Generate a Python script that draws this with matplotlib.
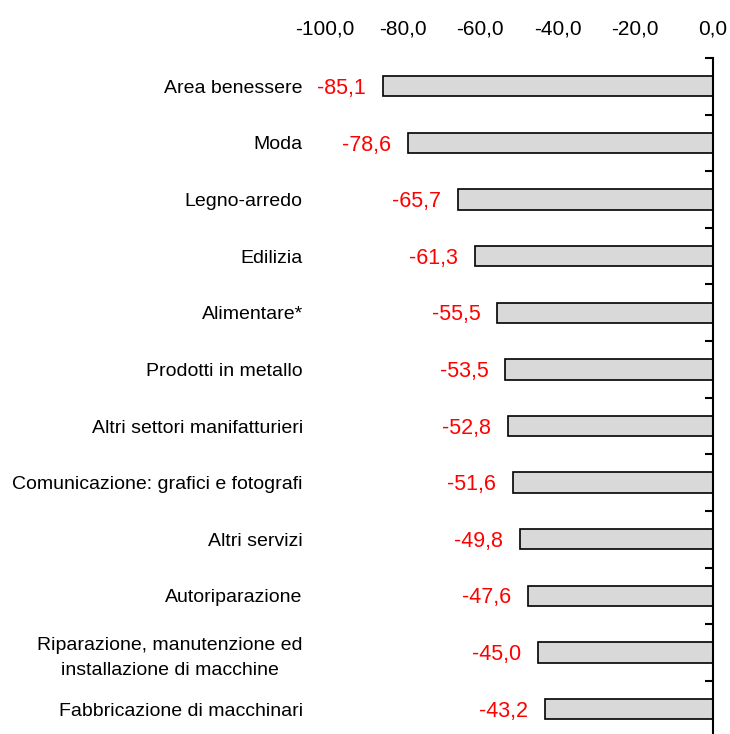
import matplotlib
matplotlib.use('Agg')
from matplotlib import pyplot as plt
from matplotlib import ticker
import numpy as np

plt.rcParams['font.family'] = ['Liberation Sans', 'DejaVu Sans']

# ---- data ----------------------------------------------------------
settori = ['Area benessere', 'Moda', 'Legno-arredo', 'Edilizia', 'Alimentare*',
           'Prodotti in metallo', 'Altri settori manifatturieri',
           'Comunicazione: grafici e fotografi', 'Altri servizi', 'Autoriparazione',
           'Riparazione, manutenzione ed\ninstallazione di macchine',
           'Fabbricazione di macchinari']
valori = [-85.1, -78.6, -65.7, -61.3, -55.5, -53.5, -52.8, -51.6, -49.8, -47.6, -45.0, -43.2]
x_ticks = [-100, -80, -60, -40, -20, 0]

def virgola(v, pos=None):
    return f"{v:.1f}".replace('.', ',')

W, H = 730, 734
fig = plt.figure(figsize=(W / 100, H / 100), dpi=100)
ax = fig.add_axes([325 / W, 0, (712.5 - 325) / W, (H - 58) / H])

y = np.arange(len(settori))
ax.barh(y, valori, height=0.36, color='#d9d9d9', edgecolor='black', linewidth=1.2)

for yi, v in zip(y, valori):
    ax.annotate(virgola(v), xy=(v, yi), xytext=(-12, -1.5), textcoords='offset points',
                ha='right', va='center', color='red', fontsize=15.5)

ax.set_xlim(-100, 0)
ax.set_ylim(11.44, -0.5)

# x axis on top, labels only
ax.xaxis.tick_top()
ax.set_xticks(x_ticks)
ax.xaxis.set_major_formatter(ticker.FuncFormatter(virgola))
ax.tick_params(axis='x', length=0, pad=14, labelsize=15)

# y labels on the left, boundary ticks on the right spine
ax.set_yticks(y)
ax.set_yticklabels(settori, multialignment='center', linespacing=1.55)
ax.tick_params(axis='y', which='major', length=0, pad=16, labelsize=14)
ax.set_yticks(np.arange(-0.5, len(settori) - 0.5, 1), minor=True)
ax.tick_params(axis='y', which='minor', left=False, right=True, direction='in',
               length=6, width=1.5)

for s in ['top', 'left', 'bottom']:
    ax.spines[s].set_visible(False)
ax.spines['right'].set_linewidth(1.5)

fig.savefig('out.png', dpi=100)
